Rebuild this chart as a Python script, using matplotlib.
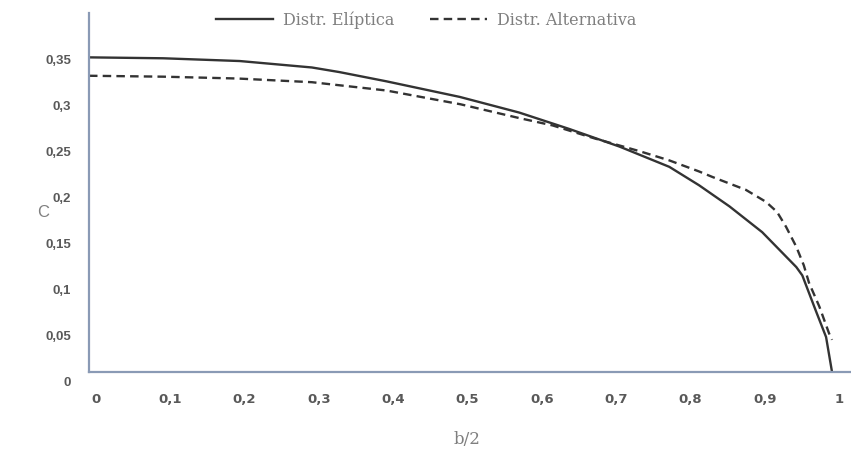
import matplotlib
matplotlib.use("Agg")
import matplotlib.pyplot as plt
from matplotlib.transforms import ScaledTranslation

# Data
x_elip = [0.0, 0.1, 0.203, 0.3, 0.337, 0.4, 0.499, 0.579, 0.647, 0.714, 0.781,
          0.821, 0.862, 0.906, 0.952, 0.96, 0.978, 0.992, 1.0]
c_elip = [0.342, 0.341, 0.338, 0.331, 0.326, 0.316, 0.299, 0.282, 0.264, 0.245, 0.223,
          0.203, 0.180, 0.152, 0.114, 0.105, 0.067, 0.038, 0.0]

x_alt = [0.0, 0.1, 0.2, 0.3, 0.4, 0.5, 0.579, 0.624, 0.68, 0.741, 0.781, 0.821, 0.839,
         0.884, 0.911, 0.926, 0.938, 0.952, 0.962, 0.969, 0.983, 0.996, 1.0]
c_alt = [0.322, 0.321, 0.319, 0.315, 0.306, 0.291, 0.276, 0.268, 0.254, 0.240, 0.230,
         0.218, 0.212, 0.198, 0.185, 0.174, 0.158, 0.136, 0.116, 0.097, 0.071, 0.042, 0.035]

x_ticks = [0, 0.1, 0.2, 0.3, 0.4, 0.5, 0.6, 0.7, 0.8, 0.9, 1]
x_labels = ["0", "0,1", "0,2", "0,3", "0,4", "0,5", "0,6", "0,7", "0,8", "0,9", "1"]
y_ticks = [0, 0.05, 0.1, 0.15, 0.2, 0.25, 0.3, 0.35]
y_labels = ["0", "0,05", "0,1", "0,15", "0,2", "0,25", "0,3", "0,35"]

W, H = 851, 454
fig = plt.figure(figsize=(W / 100, H / 100), dpi=100)
ax = fig.add_axes([89 / W, 1 - 372 / H, (850 - 89) / W, (372 - 13) / H])

line_col = "#333333"
ax.plot(x_elip, c_elip, color=line_col, lw=1.7, label="Distr. Elíptica")
ax.plot(x_alt, c_alt, color=line_col, lw=1.7, linestyle=(0, (3.6, 2.2)),
        label="Distr. Alternativa")

ax.set_xlim(0, (851 - 89) / 744)
ax.set_ylim(0, (372 - 13) / 920)

for side in ["top", "right"]:
    ax.spines[side].set_visible(False)
for side in ["left", "bottom"]:
    ax.spines[side].set_color("#8a9ab5")
    ax.spines[side].set_linewidth(1.6)

ax.set_xticks(x_ticks)
ax.set_xticklabels(x_labels, fontsize=9.5, fontweight="bold", color="#595959",
                   family="DejaVu Sans")
ax.set_yticks(y_ticks)
ax.set_yticklabels(y_labels, fontsize=9.5, fontweight="bold", color="#595959",
                   family="Liberation Sans")
ax.tick_params(axis="both", length=0)
ax.tick_params(axis="x", pad=15)
ax.tick_params(axis="y", pad=13)

for lab in ax.get_xticklabels():
    lab.set_transform(lab.get_transform() + ScaledTranslation(0.07, 0, fig.dpi_scale_trans))
for lab in ax.get_yticklabels():
    lab.set_transform(lab.get_transform() + ScaledTranslation(0, -0.10, fig.dpi_scale_trans))

fig.text(43 / W, 1 - 212 / H, "C", fontsize=12, color="#7f7f7f",
         family="Liberation Sans", ha="center", va="center")
fig.text(467 / W, 1 - 440 / H, "b/2", fontsize=12, color="#7f7f7f",
         family="DejaVu Serif", ha="center", va="center")

leg = fig.legend(loc="center", bbox_to_anchor=(426 / W, 1 - 20 / H), ncol=2,
                 frameon=False, handlelength=3.6, columnspacing=2.2,
                 handletextpad=0.6, prop={"family": "DejaVu Serif", "size": 11.5})
for t in leg.get_texts():
    t.set_color("#7f7f7f")

fig.savefig("out.png", dpi=100)
